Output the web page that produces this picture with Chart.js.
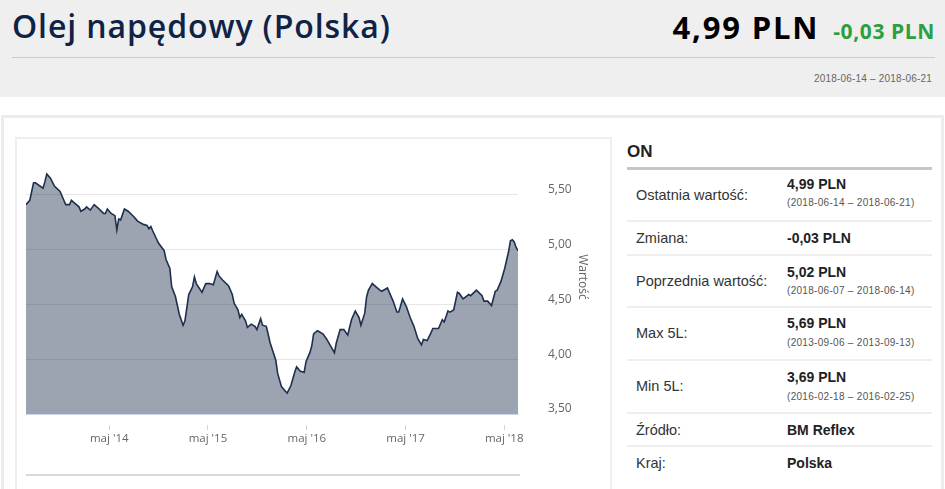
<!DOCTYPE html>
<html lang="pl">
<head>
<meta charset="utf-8">
<title>Olej napędowy (Polska)</title>
<script src="https://cdn.jsdelivr.net/npm/chart.js@4.4.0/dist/chart.umd.min.js"></script>
<style>
  html, body { margin: 0; padding: 0; background: #fff; }
  body { width: 945px; height: 489px; position: relative; overflow: hidden; font-family: 'Liberation Sans', Arial, sans-serif; color: #333; }
  .abs { position: absolute; white-space: nowrap; }
  .head { left: 0; top: 0; width: 945px; height: 97px; background: #efefef; }
  .title { left: 12px; top: 9px; font: 600 32px/34px 'Open Sans', sans-serif; letter-spacing: 0.9px; color: #0f2346; }
  .price { right: 10px; top: 10px; font: 700 31px/34px 'Open Sans', sans-serif; color: #000; display: flex; align-items: baseline; }
  .price .chg { font-size: 21px; color: #2ba043; margin-left: 14px; letter-spacing: 0.6px; }
  .price .val { letter-spacing: 1.8px; }
  .hline { left: 12px; top: 57px; width: 923px; height: 1px; background: #cdcdcd; }
  .hdate { right: 13px; top: 73px; font-size: 10px; line-height: 12px; color: #666; letter-spacing: 0.2px; }
  .outer { left: 1px; top: 115px; width: 937px; height: 380px; border: 3px solid #ececec; }
  .chartbox { left: 15px; top: 137px; width: 593px; height: 360px; border: 2px solid #efefef; }
  .navline { left: 26px; top: 474px; width: 494px; height: 2px; background: #dadada; }
  #chart { position: absolute; left: 16px; top: 140px; }
  .on { left: 627px; top: 141px; font: bold 17px/22px 'Liberation Sans', Arial, sans-serif; color: #222; }
  .onl { left: 627px; top: 167px; width: 305px; height: 3px; background: #c6c6c6; }
  .sep { left: 627px; width: 305px; height: 2px; background: #eeeeee; }
  .lab { left: 636px; font-size: 14.5px; line-height: 18px; color: #333; }
  .v { left: 787px; font-weight: bold; font-size: 14px; line-height: 18px; color: #222; }
  .d { left: 787px; font-size: 10px; line-height: 12px; color: #555; letter-spacing: 0.3px; }
</style>
</head>
<body>
<div class="abs head"></div>
<div class="abs title">Olej napędowy (Polska)</div>
<div class="abs price"><span class="val">4,99 PLN</span><span class="chg">-0,03 PLN</span></div>
<div class="abs hline"></div>
<div class="abs hdate">2018-06-14 – 2018-06-21</div>

<div class="abs outer"></div>
<div class="abs chartbox"></div>
<canvas id="chart" width="574" height="320"></canvas>
<div class="abs navline"></div>

<div class="abs on">ON</div>
<div class="abs onl"></div>

<div class="abs lab" style="top:186px">Ostatnia wartość:</div>
<div class="abs v" style="top:175px">4,99 PLN</div>
<div class="abs d" style="top:197px">(2018-06-14 – 2018-06-21)</div>
<div class="abs sep" style="top:220px"></div>

<div class="abs lab" style="top:229px">Zmiana:</div>
<div class="abs v" style="top:229px">-0,03 PLN</div>
<div class="abs sep" style="top:254px"></div>

<div class="abs lab" style="top:272px">Poprzednia wartość:</div>
<div class="abs v" style="top:263px">5,02 PLN</div>
<div class="abs d" style="top:285px">(2018-06-07 – 2018-06-14)</div>
<div class="abs sep" style="top:306px"></div>

<div class="abs lab" style="top:324px">Max 5L:</div>
<div class="abs v" style="top:314px">5,69 PLN</div>
<div class="abs d" style="top:337px">(2013-09-06 – 2013-09-13)</div>
<div class="abs sep" style="top:359px"></div>

<div class="abs lab" style="top:377px">Min 5L:</div>
<div class="abs v" style="top:368px">3,69 PLN</div>
<div class="abs d" style="top:391px">(2016-02-18 – 2016-02-25)</div>
<div class="abs sep" style="top:412px"></div>

<div class="abs lab" style="top:421px">Źródło:</div>
<div class="abs v" style="top:421px">BM Reflex</div>
<div class="abs sep" style="top:445px"></div>

<div class="abs lab" style="top:454px">Kraj:</div>
<div class="abs v" style="top:454px">Polska</div>

<script>
// weekly diesel price
var startDate = '2013-06-27';
var weekOffsets = [
  0, 2, 4, 5, 9, 10, 11, 13, 15, 18, 20, 21, 23, 24, 26, 28, 29, 31, 32, 34,
  36, 38, 41, 42, 43, 45, 47, 48, 49, 50, 52, 54, 57, 59, 62, 64, 65, 66, 67, 70,
  73, 74, 76, 77, 79, 81, 83, 84, 86, 88, 89, 90, 93, 95, 97, 99, 101, 102, 104, 107,
  109, 110, 112, 113, 114, 116, 117, 119, 121, 122, 124, 125, 127, 129, 132, 133, 135, 137, 138, 140,
  142, 143, 145, 147, 148, 150, 151, 152, 154, 155, 157, 159, 161, 163, 164, 166, 168, 170, 172, 174,
  176, 177, 179, 180, 181, 183, 185, 187, 188, 191, 192, 194, 196, 197, 199, 201, 203, 205, 207, 209,
  210, 212, 214, 215, 217, 218, 220, 221, 223, 224, 226, 228, 229, 231, 234, 235, 238, 241, 242, 244,
  246, 248, 249, 251, 253, 255, 256, 257, 258, 259, 260
];
var prices = [
  5.41, 5.45, 5.61, 5.61, 5.56, 5.62, 5.69, 5.65, 5.58, 5.53, 5.45, 5.41, 5.41, 5.45, 5.42, 5.39, 5.35, 5.37, 5.39, 5.36,
  5.41, 5.38, 5.33, 5.33, 5.37, 5.33, 5.31, 5.18, 5.28, 5.27, 5.37, 5.35, 5.30, 5.26, 5.23, 5.22, 5.19, 5.21, 5.17, 5.06,
  4.99, 4.91, 4.83, 4.66, 4.57, 4.41, 4.31, 4.35, 4.59, 4.66, 4.75, 4.69, 4.61, 4.69, 4.69, 4.68, 4.80, 4.76, 4.72, 4.67,
  4.59, 4.51, 4.45, 4.38, 4.41, 4.35, 4.29, 4.32, 4.30, 4.27, 4.37, 4.31, 4.30, 4.15, 3.99, 3.87, 3.75, 3.71, 3.69, 3.76,
  3.88, 3.93, 3.89, 3.88, 3.98, 4.06, 4.12, 4.23, 4.26, 4.25, 4.23, 4.18, 4.12, 4.06, 4.15, 4.27, 4.27, 4.22, 4.36, 4.44,
  4.38, 4.31, 4.42, 4.57, 4.63, 4.69, 4.66, 4.63, 4.62, 4.65, 4.61, 4.53, 4.43, 4.43, 4.55, 4.48, 4.38, 4.30, 4.19, 4.13,
  4.18, 4.17, 4.24, 4.28, 4.28, 4.28, 4.36, 4.34, 4.44, 4.43, 4.45, 4.61, 4.60, 4.55, 4.59, 4.58, 4.63, 4.58, 4.53, 4.53,
  4.49, 4.62, 4.63, 4.71, 4.83, 4.98, 5.08, 5.09, 5.07, 5.02, 4.99
];
var xTickDates = ['2014-05-01', '2015-05-01', '2016-05-01', '2017-05-01', '2018-05-01'];
var xTickLabels = ["maj '14", "maj '15", "maj '16", "maj '17", "maj '18"];
var yMin = 3.5, yMax = 6.0, yStep = 0.5;

var DAY = 86400000;
function dayOf(d) { return (Date.parse(d) - Date.parse(startDate)) / DAY; }

var points = weekOffsets.map(function (w, i) { return { x: w * 7, y: prices[i] }; });
var tickDays = xTickDates.map(dayOf);
var lastDay = weekOffsets[weekOffsets.length - 1] * 7;

var labelFont = { family: "'Open Sans', sans-serif", size: 12 };

new Chart(document.getElementById('chart').getContext('2d'), {
  type: 'line',
  data: {
    datasets: [{
      label: 'ON',
      data: points,
      borderColor: '#1f2f4e',
      backgroundColor: 'rgba(32,48,78,0.44)',
      borderWidth: 1.6,
      fill: 'start',
      tension: 0,
      pointRadius: 0
    }]
  },
  options: {
    responsive: false,
    animation: false,
    layout: { padding: { left: 10, right: 0, top: 0, bottom: 0 } },
    plugins: { legend: { display: false }, tooltip: { enabled: false } },
    scales: {
      x: {
        type: 'linear',
        min: 0,
        max: lastDay,
        afterBuildTicks: function (scale) {
          scale.ticks = tickDays.map(function (v) { return { value: v }; });
        },
        afterFit: function (scale) {
          scale.height = 46;
          scale.paddingLeft = 0; scale.paddingRight = 0;
        },
        ticks: {
          autoSkip: false,
          maxRotation: 0,
          padding: 2,
          color: '#666',
          font: { family: "'Open Sans', sans-serif", size: 11.5 },
          callback: function (v, i) { return xTickLabels[i]; }
        },
        grid: {
          drawOnChartArea: false,
          drawTicks: true,
          tickLength: 16,
          tickColor: '#ccd6eb',
          tickWidth: 1,
          tickBorderDash: [0, 10, 6, 100]
        },
        border: { display: true, color: '#ccd6eb', width: 1 }
      },
      y: {
        position: 'right',
        min: yMin,
        max: yMax,
        afterFit: function (scale) {
          scale.width = 72;
          scale.paddingTop = 0; scale.paddingBottom = 0;
        },
        ticks: {
          stepSize: yStep,
          padding: 30,
          labelOffset: -5,
          color: '#666',
          font: labelFont,
          callback: function (v) { return v === yMax ? '' : v.toFixed(2).replace('.', ','); }
        },
        grid: {
          drawTicks: false,
          color: function (ctx) { return ctx.tick && ctx.tick.value === yMax ? 'rgba(0,0,0,0)' : '#e6e6e6'; }
        },
        border: { display: false },
        title: {
          display: true,
          text: 'Wartość',
          color: '#666',
          font: labelFont,
          padding: { top: 0, bottom: 0 }
        }
      }
    }
  }
});
</script>
</body>
</html>
